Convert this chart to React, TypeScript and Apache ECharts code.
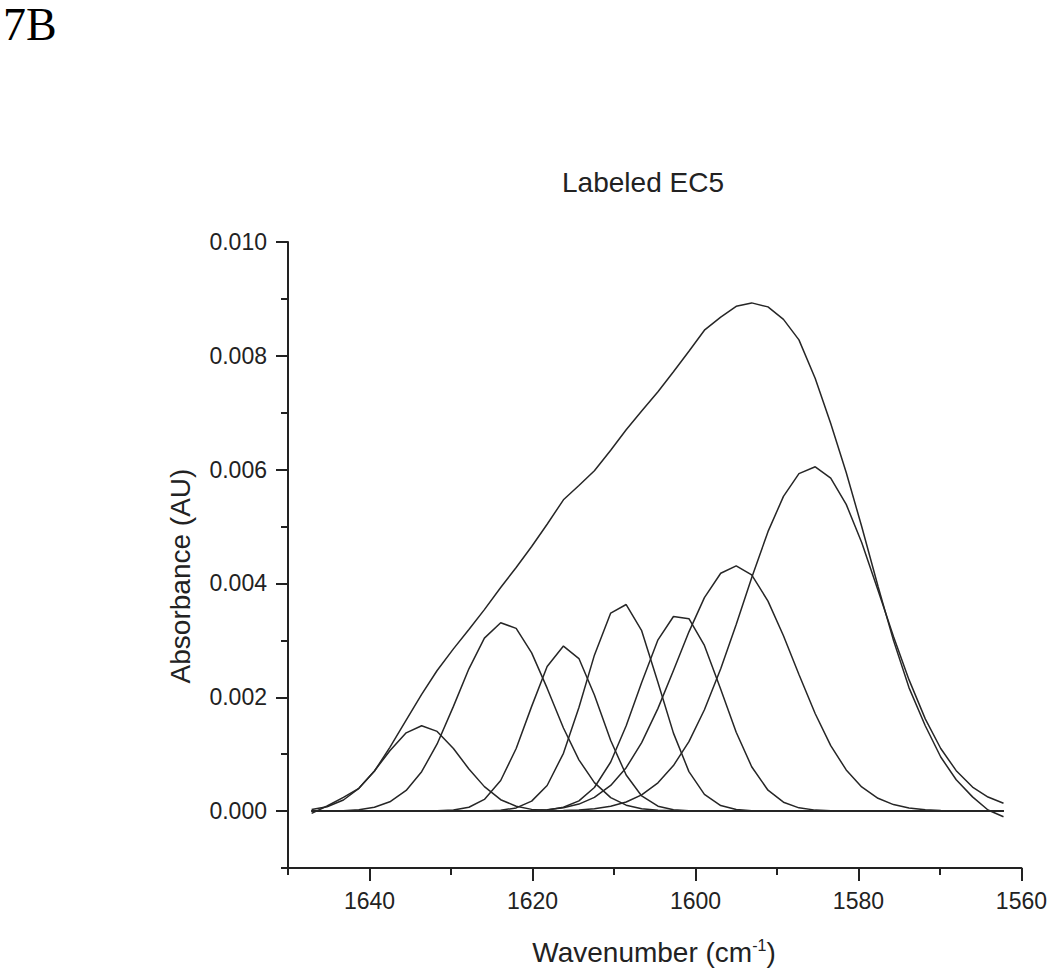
import React, { useEffect, useRef } from "react";
import * as echarts from "echarts";

// Wavenumber sampling (cm-1), descending
const wavenumbers = [
  1647.1, 1645.2, 1643.2, 1641.3, 1639.4, 1637.5, 1635.5, 1633.6, 1631.7, 1629.7,
  1627.8, 1625.9, 1623.9, 1622.0, 1620.1, 1618.2, 1616.2, 1614.3, 1612.4, 1610.4,
  1608.5, 1606.6, 1604.6, 1602.7, 1600.8, 1598.9, 1596.9, 1595.0, 1593.1, 1591.1,
  1589.2, 1587.3, 1585.3, 1583.4, 1581.5, 1579.6, 1577.6, 1575.7, 1573.8, 1571.8,
  1569.9, 1568.0, 1566.0, 1564.1, 1562.2,
];

// Values below are in milli-absorbance units (x 0.001 AU)
const envelope = [
  -0.04, 0.09, 0.24, 0.4, 0.7, 1.12, 1.6, 2.05, 2.47, 2.85,
  3.19, 3.54, 3.93, 4.28, 4.65, 5.04, 5.47, 5.72, 5.98, 6.34,
  6.7, 7.03, 7.37, 7.72, 8.08, 8.45, 8.68, 8.87, 8.93, 8.86,
  8.64, 8.28, 7.6, 6.81, 5.95, 5.0, 3.95, 3.0, 2.17, 1.5,
  0.95, 0.55, 0.25, 0.02, -0.1,
];
const band1 = [
  0.027, 0.077, 0.195, 0.4, 0.705, 1.06, 1.375, 1.5, 1.4, 1.1,
  0.74, 0.43, 0.2, 0.085, 0.03, 0.009, 0.002, 0, 0, 0,
  0, 0, 0, 0, 0, 0, 0, 0, 0, 0,
  0, 0, 0, 0, 0, 0, 0, 0, 0, 0,
  0, 0, 0, 0, 0,
];
const band2 = [
  0.001, 0.002, 0.008, 0.025, 0.068, 0.163, 0.362, 0.692, 1.18, 1.84,
  2.5, 3.04, 3.31, 3.21, 2.78, 2.16, 1.46, 0.9, 0.5, 0.237,
  0.104, 0.041, 0.014, 0.004, 0.001, 0, 0, 0, 0, 0,
  0, 0, 0, 0, 0, 0, 0, 0, 0, 0,
  0, 0, 0, 0, 0,
];
const band3 = [
  0, 0, 0, 0, 0, 0, 0, 0.001, 0.004, 0.018,
  0.067, 0.205, 0.537, 1.1, 1.84, 2.54, 2.9, 2.68, 2.04, 1.24,
  0.634, 0.266, 0.086, 0.024, 0.006, 0.001, 0, 0, 0, 0,
  0, 0, 0, 0, 0, 0, 0, 0, 0, 0,
  0, 0, 0, 0, 0,
];
const band4 = [
  0, 0, 0, 0, 0, 0, 0, 0, 0, 0,
  0.001, 0.003, 0.015, 0.056, 0.175, 0.45, 1.015, 1.82, 2.74, 3.48,
  3.63, 3.17, 2.26, 1.37, 0.694, 0.294, 0.098, 0.029, 0.007, 0.001,
  0, 0, 0, 0, 0, 0, 0, 0, 0, 0,
  0, 0, 0, 0, 0,
];
const band5 = [
  0, 0, 0, 0, 0, 0, 0, 0, 0, 0,
  0, 0, 0, 0.001, 0.006, 0.021, 0.068, 0.18, 0.415, 0.863,
  1.5, 2.26, 3.01, 3.42, 3.38, 2.91, 2.14, 1.385, 0.78, 0.367,
  0.156, 0.057, 0.017, 0.005, 0.001, 0, 0, 0, 0, 0,
  0, 0, 0, 0, 0,
];
const band6 = [
  0, 0, 0, 0, 0, 0, 0, 0, 0, 0,
  0, 0, 0.001, 0.004, 0.01, 0.025, 0.059, 0.123, 0.24, 0.451,
  0.762, 1.204, 1.805, 2.47, 3.15, 3.75, 4.18, 4.31, 4.15, 3.69,
  3.08, 2.4, 1.71, 1.15, 0.724, 0.425, 0.225, 0.114, 0.054, 0.023,
  0.009, 0.004, 0.001, 0, 0,
];
const band7 = [
  0, 0, 0, 0, 0, 0, 0, 0, 0, 0,
  0, 0, 0, 0, 0, 0.004, 0.009, 0.02, 0.042, 0.086,
  0.16, 0.286, 0.497, 0.8, 1.22, 1.78, 2.5, 3.28, 4.1, 4.91,
  5.53, 5.93, 6.05, 5.85, 5.39, 4.72, 3.88, 3.07, 2.31, 1.62,
  1.1, 0.71, 0.423, 0.247, 0.137,
];
const baselineX = [1647.1, 1562.2];
const baselineY = [0, 0];

const xMajorTicks = [1640, 1620, 1600, 1580, 1560];
const yMajorTicks = [0, 0.002, 0.004, 0.006, 0.008, 0.01];

const FONT = "'Liberation Sans', Arial, sans-serif";
const INK = "#222";
const LINE = "#262626";

export default function App() {
  const ref = useRef<HTMLDivElement>(null);

  useEffect(() => {
    if (!ref.current) return;
    const chart = echarts.init(ref.current, null, { renderer: "svg" });
    const toPairs = (vals: number[]) => wavenumbers.map((w, i) => [w, vals[i] * 0.001]);
    const bands = [band1, band2, band3, band4, band5, band6, band7];
    const lineStyle = { color: LINE, width: 1.5 };
    const series: any[] = [];
    series.push({
      type: "line",
      name: "baseline",
      data: baselineX.map((w, i) => [w, baselineY[i]]),
      showSymbol: false,
      symbol: "none",
      lineStyle: { color: "#333", width: 2 },
      silent: true,
    });
    bands.forEach((b, k) => {
      series.push({
        type: "line",
        name: "band" + (k + 1),
        data: toPairs(b),
        showSymbol: false,
        symbol: "none",
        lineStyle,
        silent: true,
      });
    });
    series.push({
      type: "line",
      name: "spectrum",
      data: toPairs(envelope),
      showSymbol: false,
      symbol: "none",
      lineStyle,
      silent: true,
    });

    const tickLine = { color: INK, width: 2 };
    const option: any = {
      animation: false,
      backgroundColor: "#fff",
      grid: { left: 288, right: 25, top: 242, bottom: 102, containLabel: false },
      xAxis: [
        {
          type: "value",
          min: 1560,
          max: 1650,
          interval: 10,
          inverse: true,
          position: "bottom",
          axisLine: { show: true, onZero: false, lineStyle: { color: INK, width: 2 } },
          axisTick: { show: true, inside: false, length: 7, lineStyle: tickLine },
          axisLabel: {
            show: true,
            margin: 21,
            fontSize: 23,
            fontFamily: FONT,
            color: INK,
            formatter: (v: number) => {
              const r = Math.round(v);
              return r % 20 === 0 ? String(r) : "";
            },
          },
          splitLine: { show: false },
        },
        {
          type: "value",
          min: 1560,
          max: 1650,
          interval: 10,
          inverse: true,
          position: "bottom",
          axisLine: { show: false, onZero: false },
          axisTick: { show: true, inside: false, length: 13, customValues: xMajorTicks, lineStyle: tickLine },
          axisLabel: { show: false },
          splitLine: { show: false },
        },
      ],
      yAxis: [
        {
          type: "value",
          min: -0.001,
          max: 0.01,
          interval: 0.001,
          position: "left",
          axisLine: { show: true, onZero: false, lineStyle: { color: INK, width: 2 } },
          axisTick: { show: true, inside: false, length: 7, lineStyle: tickLine },
          axisLabel: {
            show: true,
            margin: 21,
            fontSize: 23,
            fontFamily: FONT,
            color: INK,
            formatter: (v: number) => {
              const k = Math.round(v * 1000);
              return k >= 0 && k % 2 === 0 ? (k / 1000).toFixed(3) : "";
            },
          },
          splitLine: { show: false },
        },
        {
          type: "value",
          min: -0.001,
          max: 0.01,
          interval: 0.001,
          position: "left",
          axisLine: { show: false, onZero: false },
          axisTick: { show: true, inside: false, length: 12, customValues: yMajorTicks, lineStyle: tickLine },
          axisLabel: { show: false },
          splitLine: { show: false },
        },
      ],
      series,
      graphic: [
        {
          type: "text",
          x: 3,
          y: 1,
          style: {
            text: "7B",
            fontSize: 46,
            fontFamily: "'Liberation Serif', 'Times New Roman', serif",
            fill: "#000",
            align: "left",
            verticalAlign: "top",
          },
        },
        {
          type: "text",
          x: 643,
          y: 182,
          style: {
            text: "Labeled EC5",
            fontSize: 28,
            fontFamily: FONT,
            fill: INK,
            align: "center",
            verticalAlign: "middle",
          },
        },
        {
          type: "text",
          x: 180,
          y: 576,
          rotation: Math.PI / 2,
          style: {
            text: "Absorbance (AU)",
            fontSize: 28,
            fontFamily: FONT,
            fill: INK,
            align: "center",
            verticalAlign: "middle",
          },
        },
        {
          type: "text",
          x: 654,
          y: 952,
          style: {
            text: "{a|Wavenumber (cm}{s|-1}{a|)}",
            fontFamily: FONT,
            fill: INK,
            align: "center",
            verticalAlign: "middle",
            rich: {
              a: { fontSize: 28, fontFamily: FONT, fill: INK, lineHeight: 30 },
              s: { fontSize: 16, fontFamily: FONT, fill: INK, verticalAlign: "top", lineHeight: 18 },
            },
          },
        },
      ],
    };
    chart.setOption(option);
    return () => chart.dispose();
  }, []);

  return (
    <div
      ref={ref}
      style={{ position: "absolute", left: 0, top: 0, width: 1050, height: 970, background: "#fff" }}
    />
  );
}
